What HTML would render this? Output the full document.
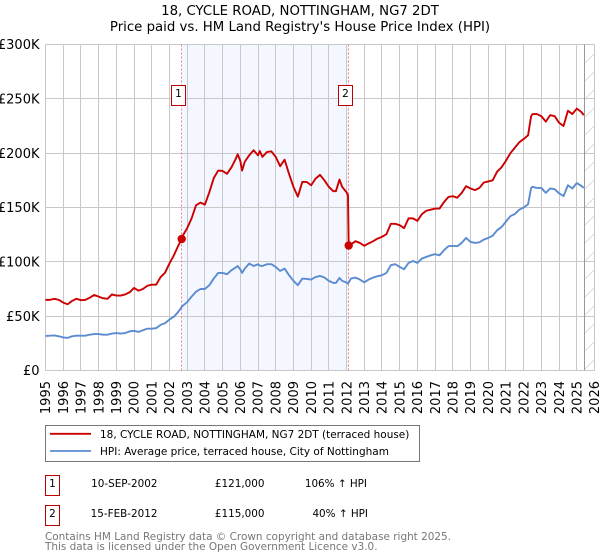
<!DOCTYPE html>
<html>
<head>
<meta charset="utf-8">
<title>18, Cycle Road price chart</title>
<style>
html,body{margin:0;padding:0;background:#fff;}
body{width:600px;height:560px;overflow:hidden;position:relative;font-family:"DejaVu Sans","Liberation Sans",sans-serif;color:#000;}
svg{position:absolute;left:0;top:0;}
svg text{font-family:"DejaVu Sans","Liberation Sans",sans-serif;}
</style>
</head>
<body>
<svg id="chart" width="600" height="560" viewBox="0 0 600 560">
  <defs>
    <pattern id="hatch" patternUnits="userSpaceOnUse" width="18" height="18">
      <path d="M-1 19 L19 -1" stroke="#d4d4d4" stroke-width="0.8" fill="none"/>
    </pattern>
  </defs>
  <text x="300" y="15" text-anchor="middle" font-size="13.3">18, CYCLE ROAD, NOTTINGHAM, NG7 2DT</text>
  <text x="300" y="31" text-anchor="middle" font-size="13.3">Price paid vs. HM Land Registry's House Price Index (HPI)</text>
  <g id="plot"></g>

  <g>
    <rect x="45.5" y="425.5" width="374" height="36" fill="#fff" stroke="#777" stroke-width="1"/>
    <line x1="50" x2="91" y1="433.8" y2="433.8" stroke="#cc0000" stroke-width="1.8"/>
    <text x="100" y="438" font-size="10.47">18, CYCLE ROAD, NOTTINGHAM, NG7 2DT (terraced house)</text>
    <line x1="50" x2="91" y1="451" y2="451" stroke="#5b8bd0" stroke-width="1.8"/>
    <text x="100" y="455" font-size="10.5">HPI: Average price, terraced house, City of Nottingham</text>
  </g>

  <g>
    <rect x="45.5" y="475.5" width="14" height="20" fill="#fff" stroke="#bb0000" stroke-width="1"/>
    <text x="52.5" y="487" text-anchor="middle" font-size="10.5">1</text>
    <text x="157.5" y="487" text-anchor="end" font-size="10.4">10-SEP-2002</text>
    <text x="264.5" y="487" text-anchor="end" font-size="10.4">£121,000</text>
    <text x="367" y="487" text-anchor="end" font-size="10.4">106% ↑ HPI</text>
  </g>
  <g>
    <rect x="45.5" y="505.5" width="14" height="20" fill="#fff" stroke="#bb0000" stroke-width="1"/>
    <text x="52.5" y="517" text-anchor="middle" font-size="10.5">2</text>
    <text x="157.5" y="517" text-anchor="end" font-size="10.4">15-FEB-2012</text>
    <text x="264.5" y="517" text-anchor="end" font-size="10.4">£115,000</text>
    <text x="368" y="517" text-anchor="end" font-size="10.4">40% ↑ HPI</text>
  </g>

  <text x="45" y="540" font-size="10.45" fill="#777">Contains HM Land Registry data © Crown copyright and database right 2025.</text>
  <text x="45" y="550" font-size="10.45" fill="#777">This data is licensed under the Open Government Licence v3.0.</text>
</svg>

<script>
// Chart data -------------------------------------------------------------
const yearTicks = [1995,1996,1997,1998,1999,2000,2001,2002,2003,2004,2005,2006,2007,2008,2009,2010,2011,2012,2013,2014,2015,2016,2017,2018,2019,2020,2021,2022,2023,2024,2025,2026];
const priceTicks = [0,50,100,150,200,250,300];
const priceTickLabels = ['£0','£50K','£100K','£150K','£200K','£250K','£300K'];

const dates = [
  1995,1995.25,1995.5,1995.75,
  1996,1996.25,1996.5,1996.75,
  1997,1997.25,1997.5,1997.75,
  1998,1998.25,1998.5,1998.75,
  1999,1999.25,1999.5,1999.75,
  2000,2000.25,2000.5,2000.75,
  2001,2001.25,2001.5,2001.75,
  2002,2002.25,2002.5,2002.69,2002.75,
  2003,2003.25,2003.5,2003.75,
  2004,2004.25,2004.5,2004.75,
  2005,2005.25,2005.5,2005.75,2005.85,
  2006,2006.1,2006.25,2006.5,2006.75,
  2007,2007.1,2007.25,2007.5,2007.75,
  2008,2008.25,2008.5,2008.75,
  2009,2009.25,2009.5,2009.75,
  2010,2010.25,2010.5,2010.75,
  2011,2011.25,2011.4,2011.6,2011.75,
  2012,2012.08,2012.12,2012.25,2012.5,2012.75,
  2013,2013.25,2013.5,2013.75,
  2014,2014.25,2014.5,2014.75,
  2015,2015.25,2015.5,2015.75,
  2016,2016.25,2016.5,2016.75,
  2017,2017.25,2017.5,2017.75,
  2018,2018.25,2018.5,2018.75,
  2019,2019.25,2019.5,2019.75,
  2020,2020.25,2020.5,2020.75,
  2021,2021.25,2021.5,2021.75,
  2022,2022.25,2022.42,2022.5,2022.75,
  2023,2023.25,2023.5,2023.75,
  2024,2024.25,2024.5,2024.75,
  2025,2025.25,2025.4
];

// Values in £ thousands
const pricePaidValues = [
  65,65,66,65,
  62.5,61,64,66,
  64.7,65,67,69.5,
  68,66.5,66,70,
  69,69,70,72,
  76,73.5,75,78,
  79,79,86,90,
  98.5,106,115,121,124,
  131,140,152,154.5,
  152.7,164,177,184,
  183.6,181,187,195,199,
  193,184,192,198,202.7,
  198,202,196.6,201,201.7,
  196.6,188,194,181,
  169,160,173.5,173.5,
  170.5,176.6,180,175,
  169,165,165,175.7,169,
  164,161,115,116,119,117.4,
  114.7,117,119,121.4,
  123,125.4,135,135,
  133.7,131,140,140,
  137.7,143.8,147,148,
  149,149,155,159.7,
  160.4,159,163.4,169.6,
  167.5,166,168,173,
  174,175,183,187,
  193,200,205,210,
  213,216.5,234,236,236,
  234,229,235,234,
  228,225,239,236,
  241,238,235
];

const hpiValues = [
  31.8,32,32.3,31.5,
  30.4,30,31.5,32,
  32,32,33,33.5,
  33.5,33,33,34,
  34.5,34,34.5,36,
  36.5,35.5,37,38.5,
  38.5,39,42,43.5,
  47,49.5,54,58.5,59.5,
  63,68,72.5,75,
  75,78.5,84.6,89.8,
  89.8,88.6,92.3,94.8,96.2,
  93,89.8,93.8,98.4,96.2,
  97.8,96.5,96.2,97.8,97.8,
  95.3,91.6,93.8,87.7,
  82.5,78.5,84.6,84.3,
  83.7,86,87,85.6,
  82.5,80.6,80.6,85.2,82.5,
  81,80,81,84.6,85.5,83.7,
  81.2,83.7,85.5,86.8,
  87.7,89.8,96.9,97.8,
  95.3,93.2,99,100.8,
  99,103,104.5,106,
  107,106,110.7,114.4,
  114.7,114.4,117.4,122,
  118.3,117.4,118,120.5,
  122,124,129,132,
  137,142,144,148,
  150,153,168,169,168,
  168,163.5,167.5,166.8,
  163,160.5,170.5,167.5,
  172.5,170,168
];

const saleDates = [2002.69,2012.12];
const salePrices = [121,115];
const saleLabels = ['1','2'];
const forecastStart = 2025.42;

// Axis functions ---------------------------------------------------------
const plotLeft = 45.5, plotRight = 594.5, plotTop = 44.5, plotBottom = 370.5;
function xAxis(year){
  return plotLeft + (year - yearTicks[0]) / (yearTicks[yearTicks.length-1] - yearTicks[0]) * (plotRight - plotLeft);
}
function yAxis(value){
  return plotBottom - value / priceTicks[priceTicks.length-1] * (plotBottom - plotTop);
}
function snap(px){
  return Math.floor(px) + 0.5;
}
const SVGNS = 'http://www.w3.org/2000/svg';
const plot = document.getElementById('plot');
function make(tag, attrs, parent){
  const el = document.createElementNS(SVGNS, tag);
  for (const k in attrs) el.setAttribute(k, attrs[k]);
  (parent || plot).appendChild(el);
  return el;
}

// Shaded period between the two sales
const band = make('rect', {x:xAxis(saleDates[0]), y:plotTop, width:xAxis(saleDates[1])-xAxis(saleDates[0]), height:plotBottom-plotTop, fill:'#f4f7ff'});



// Gridlines and tick labels
priceTicks.forEach(function(v, i){
  const g = make('line', {x1:plotLeft, x2:plotRight, y1:snap(yAxis(v)), y2:snap(yAxis(v)), stroke:'#c8c8c8', 'stroke-width':1});
  
  
  const t = make('text', {x:39.5, y:yAxis(v)+4.7, 'text-anchor':'end', 'font-size':13});
  
  
  t.textContent = priceTickLabels[i];
});
yearTicks.forEach(function(yr){
  const px = xAxis(yr);
  const g = make('line', {x1:snap(px), x2:snap(px), y1:plotTop, y2:plotBottom, stroke:'#c8c8c8', 'stroke-width':1});
  
  
  const t = make('text', {x:0, y:0, 'text-anchor':'end', 'font-size':13, transform:'translate(' + (px+4.7) + ',381) rotate(-90)'});
  
  
  t.textContent = yr;
});

// Hatched region after the last data date
const hatch = make('rect', {x:xAxis(forecastStart), y:plotTop, width:plotRight-xAxis(forecastStart), height:plotBottom-plotTop, fill:'url(#hatch)'});


const hatchEdge = make('line', {x1:snap(xAxis(forecastStart)), x2:snap(xAxis(forecastStart)), y1:plotTop, y2:plotBottom, stroke:'#999', 'stroke-width':1});



// Sale date markers
saleDates.forEach(function(d){
  const l = make('line', {x1:snap(xAxis(d)), x2:snap(xAxis(d)), y1:plotTop, y2:plotBottom, stroke:'#f08088', 'stroke-width':1, 'stroke-dasharray':'2 2'});
  
  
});

// Series lines
function linePath(values){
  return values.map(function(v, i){
    return (i ? 'L' : 'M') + xAxis(dates[i]).toFixed(2) + ' ' + yAxis(v).toFixed(2);
  }).join(' ');
}
const hpiLine = make('path', {d:linePath(hpiValues), fill:'none', stroke:'#5b8bd0', 'stroke-width':1.9, 'stroke-linejoin':'round'});


const paidLine = make('path', {d:linePath(pricePaidValues), fill:'none', stroke:'#cc0000', 'stroke-width':1.9, 'stroke-linejoin':'round'});



// Sale points and numbered badges
saleDates.forEach(function(d, i){
  const c = make('circle', {cx:xAxis(d), cy:yAxis(salePrices[i]), r:4.2, fill:'#cc0000'});
  
  
  const b = make('rect', {x:snap(xAxis(d)-10.5), y:85.5, width:14, height:20, fill:'#fff', stroke:'#bb0000', 'stroke-width':1});
  
  
  const t = make('text', {x:snap(xAxis(d)-10.5)+7, y:97, 'text-anchor':'middle', 'font-size':10.5});
  
  
  t.textContent = saleLabels[i];
});
</script>
</body>
</html>
